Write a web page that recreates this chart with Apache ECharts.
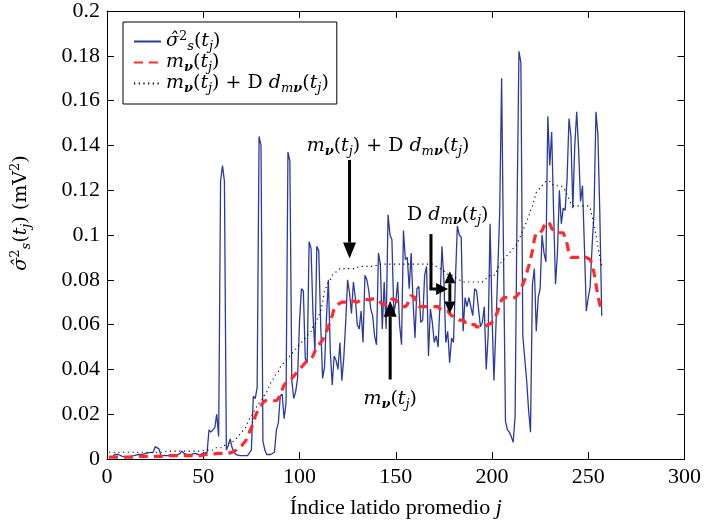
<!DOCTYPE html>
<html><head><meta charset="utf-8">
<script src="https://cdn.jsdelivr.net/npm/echarts@6/dist/echarts.min.js"></script>
<style>html,body{margin:0;padding:0;background:#fff}#c{width:704px;height:524px}</style>
</head><body><div id="c"></div>
<script>
// blue: estimated variance sigma_s^2(t_j), j = 1..257
const sigma = [
0.001,0.0015,0.001,0.002,0.0012,0.002,0.0015,0.0012,0.0015,0.001,
0.0015,0.0012,0.002,0.0015,0.0018,0.002,0.0025,0.002,0.0028,0.0025,
0.002,0.0028,0.0025,0.003,0.0055,0.005,0.0045,0.0015,0.0012,0.0015,
0.0012,0.0015,0.0015,0.0012,0.0018,0.0015,0.002,0.0025,0.0035,0.0025,
0.002,0.002,0.0018,0.0022,0.002,0.0025,0.002,0.0018,0.002,0.0025,
0.0025,0.003,0.013,0.012,0.013,0.014,0.020,0.010,0.124,0.131,
0.124,0.004,0.006,0.009,0.005,0.003,0.002,0.0015,0.0015,0.001,
0.0015,0.002,0.0015,0.002,0.004,0.028,0.027,0.032,0.144,0.140,
0.008,0.004,0.002,0.0015,0.002,0.002,0.003,0.013,0.016,0.028,
0.029,0.018,0.025,0.137,0.133,0.035,0.027,0.030,0.036,0.061,
0.076,0.075,0.045,0.043,0.097,0.094,0.065,0.048,0.095,0.093,
0.060,0.036,0.041,0.063,0.080,0.048,0.033,0.046,0.044,0.040,
0.052,0.035,0.045,0.061,0.080,0.074,0.065,0.079,0.072,0.060,
0.058,0.066,0.052,0.082,0.080,0.075,0.067,0.064,0.055,0.051,
0.092,0.087,0.058,0.079,0.058,0.109,0.100,0.098,0.065,0.070,
0.079,0.060,0.051,0.102,0.089,0.090,0.076,0.092,0.070,0.054,
0.076,0.077,0.061,0.062,0.082,0.086,0.046,0.067,0.061,0.052,
0.055,0.050,0.070,0.095,0.080,0.052,0.057,0.043,0.054,0.052,
0.080,0.104,0.100,0.099,0.057,0.072,0.068,0.072,0.068,0.064,
0.076,0.075,0.075,0.059,0.061,0.068,0.040,0.055,0.105,0.065,
0.035,0.058,0.058,0.110,0.170,0.090,0.017,0.013,0.012,0.010,
0.0075,0.019,0.110,0.182,0.177,0.055,0.045,0.035,0.022,0.012,
0.078,0.085,0.057,0.072,0.076,0.100,0.092,0.088,0.153,0.131,
0.146,0.110,0.078,0.092,0.120,0.105,0.112,0.111,0.125,0.152,
0.144,0.112,0.140,0.155,0.138,0.115,0.122,0.095,0.066,0.072,
0.077,0.095,0.110,0.155,0.145,0.110,0.064
];
// red dashed: m_nu(t_j)
const meanNu = [
0.0008,0.0008,0.0008,0.0008,0.0008,0.0008,0.0008,0.0008,0.0008,0.0008,
0.0008,0.0008,0.0008,0.0008,0.0008,0.0012,0.0012,0.0012,0.0012,0.0012,
0.0012,0.0012,0.0012,0.0012,0.0012,0.0012,0.0012,0.0012,0.0012,0.0012,
0.0015,0.0015,0.0015,0.0015,0.0015,0.0015,0.0015,0.0015,0.0015,0.0015,
0.0015,0.0015,0.0015,0.0015,0.0015,0.0015,0.0015,0.0015,0.0015,0.0015,
0.002,0.002,0.002,0.002,0.002,0.0025,0.0025,0.0025,0.0025,0.0025,
0.0025,0.0025,0.0025,0.0025,0.003,0.0035,0.004,0.005,0.0055,0.006,
0.007,0.008,0.010,0.012,0.014,0.016,0.019,0.021,0.023,0.024,
0.025,0.026,0.026,0.026,0.026,0.026,0.026,0.026,0.027,0.029,
0.031,0.033,0.034,0.035,0.035,0.036,0.037,0.038,0.039,0.040,
0.041,0.042,0.043,0.044,0.044,0.045,0.046,0.048,0.050,0.051,
0.052,0.053,0.055,0.057,0.059,0.062,0.064,0.067,0.068,0.069,
0.069,0.070,0.070,0.070,0.0705,0.071,0.071,0.0705,0.070,0.070,
0.070,0.071,0.071,0.0715,0.0715,0.071,0.071,0.0715,0.0715,0.0715,
0.071,0.070,0.069,0.069,0.069,0.069,0.070,0.0715,0.0715,0.071,
0.070,0.069,0.068,0.068,0.068,0.069,0.071,0.073,0.073,0.072,
0.069,0.068,0.068,0.068,0.068,0.068,0.068,0.068,0.068,0.068,
0.068,0.068,0.067,0.067,0.066,0.066,0.066,0.065,0.064,0.064,
0.063,0.063,0.062,0.062,0.062,0.061,0.061,0.061,0.060,0.060,
0.060,0.059,0.059,0.059,0.059,0.059,0.059,0.060,0.060,0.061,
0.062,0.064,0.066,0.069,0.071,0.072,0.072,0.072,0.072,0.072,
0.072,0.072,0.073,0.074,0.076,0.078,0.080,0.083,0.086,0.089,
0.093,0.098,0.101,0.101,0.101,0.102,0.104,0.105,0.106,0.105,
0.103,0.102,0.101,0.101,0.101,0.101,0.101,0.099,0.096,0.092,
0.090,0.090,0.090,0.090,0.090,0.090,0.090,0.090,0.090,0.090,
0.089,0.087,0.083,0.078,0.073,0.069,0.066
];
// black dotted: m_nu(t_j) + D d_mnu(t_j)
const upperBand = [
0.003,0.003,0.003,0.003,0.003,0.003,0.003,0.003,0.003,0.003,
0.003,0.003,0.003,0.003,0.003,0.003,0.003,0.003,0.003,0.003,
0.003,0.003,0.003,0.003,0.003,0.003,0.003,0.003,0.003,0.003,
0.0035,0.0035,0.0035,0.0035,0.0035,0.0035,0.0035,0.0035,0.0035,0.0035,
0.0035,0.0035,0.0035,0.0035,0.0035,0.0035,0.0035,0.0035,0.0035,0.0035,
0.004,0.004,0.004,0.004,0.004,0.005,0.005,0.005,0.005,0.005,
0.006,0.0065,0.007,0.007,0.0075,0.008,0.009,0.010,0.011,0.012,
0.013,0.014,0.016,0.018,0.019,0.021,0.022,0.024,0.025,0.026,
0.027,0.029,0.030,0.032,0.034,0.035,0.037,0.038,0.039,0.041,
0.042,0.043,0.044,0.045,0.046,0.047,0.048,0.049,0.050,0.051,
0.052,0.053,0.054,0.055,0.056,0.057,0.059,0.060,0.062,0.064,
0.066,0.070,0.075,0.077,0.079,0.080,0.082,0.083,0.083,0.084,
0.085,0.085,0.085,0.085,0.085,0.085,0.085,0.085,0.085,0.085,
0.086,0.086,0.086,0.086,0.086,0.086,0.086,0.086,0.086,0.086,
0.087,0.087,0.087,0.087,0.087,0.087,0.087,0.087,0.087,0.087,
0.087,0.087,0.087,0.087,0.087,0.087,0.087,0.087,0.087,0.087,
0.087,0.087,0.087,0.087,0.087,0.087,0.087,0.087,0.087,0.087,
0.086,0.086,0.085,0.085,0.084,0.083,0.083,0.082,0.082,0.082,
0.081,0.081,0.080,0.080,0.079,0.079,0.079,0.079,0.079,0.079,
0.079,0.079,0.079,0.079,0.079,0.080,0.080,0.081,0.082,0.082,
0.082,0.083,0.085,0.087,0.088,0.089,0.090,0.091,0.092,0.093,
0.094,0.095,0.096,0.098,0.100,0.102,0.104,0.106,0.108,0.111,
0.113,0.116,0.119,0.120,0.121,0.122,0.123,0.124,0.124,0.124,
0.123,0.122,0.122,0.122,0.122,0.122,0.121,0.120,0.118,0.116,
0.114,0.113,0.113,0.113,0.113,0.113,0.113,0.113,0.113,0.113,
0.112,0.108,0.104,0.100,0.095,0.090,0.086
];
const xTicks = [0, 50, 100, 150, 200, 250, 300];
const yTicks = [0, 0.02, 0.04, 0.06, 0.08, 0.1, 0.12, 0.14, 0.16, 0.18, 0.2];

const F = '"Liberation Serif", "Times New Roman", serif';
const M = '"DejaVu Serif", serif';
const pairs = arr => arr.map((v, i) => [i + 1, v]);

function mkRich(fs, lh, fam) {
  const s = Math.round(fs * 0.7);
  return {
    i: {fontFamily: fam, fontStyle: 'italic', fontSize: fs, lineHeight: lh, color: '#000'},
    r: {fontFamily: fam, fontSize: fs, lineHeight: lh, color: '#000'},
    b: {fontFamily: fam, fontStyle: 'italic', fontWeight: 'bold', fontSize: fs, lineHeight: lh, color: '#000'},
    sub: {fontFamily: fam, fontStyle: 'italic', fontSize: s, lineHeight: s, verticalAlign: 'bottom', color: '#000'},
    subb: {fontFamily: fam, fontStyle: 'italic', fontWeight: 'bold', fontSize: s, lineHeight: s, verticalAlign: 'bottom', color: '#000'},
    sup: {fontFamily: fam, fontSize: s, lineHeight: s, verticalAlign: 'top', color: '#000'}
  };
}
const T_SIGMA = '{i|σ̂}{sup|2}{sub|s}{r|(}{i|t}{sub|j}{r|)}';
const T_MEAN = '{i|m}{subb|ν}{r|(}{i|t}{sub|j}{r|)}';
const T_UPPER = '{i|m}{subb|ν}{r|(}{i|t}{sub|j}{r|) + D }{i|d}{sub|m}{subb|ν}{r|(}{i|t}{sub|j}{r|)}';
const T_DD = '{r|D }{i|d}{sub|m}{subb|ν}{r|(}{i|t}{sub|j}{r|)}';
const T_YNAME = '{i|σ̂}{sup|2}{sub|s}{r|(}{i|t}{sub|j}{r|) (mV}{sup|2}{r|)}';
const names = ['sigma', 'mean', 'upper'];
const legendText = {sigma: T_SIGMA, mean: T_MEAN, upper: T_UPPER};

const tickFont = {color: '#000', fontFamily: F, fontSize: 22, margin: 7};
const axisBase = {
  axisLine: {show: true, onZero: false, lineStyle: {color: '#000', width: 1}},
  axisTick: {show: true, inside: true, length: 7, lineStyle: {color: '#000', width: 1}},
  splitLine: {show: false}
};

const option = {
  animation: false,
  backgroundColor: '#fff',
  textStyle: {fontFamily: F},
  grid: {left: 107, right: 16, top: 10, bottom: 58, containLabel: false},
  legend: {
    orient: 'vertical', left: 123, top: 22,
    backgroundColor: '#fff', borderColor: '#000', borderWidth: 1,
    padding: [8, 8, 9, 10], itemGap: 0, itemWidth: 27, itemHeight: 14,
    data: names,
    formatter: n => legendText[n],
    itemStyle: {color: 'rgba(0,0,0,0)', borderWidth: 0, opacity: 0},
    textStyle: {rich: mkRich(19, 23, M)}
  },
  xAxis: [
    Object.assign({}, axisBase, {
      type: 'value', min: 0, max: 300, interval: 50, position: 'bottom',
      axisLabel: Object.assign({}, tickFont),
      name: '{r|Índice latido promedio }{i|j}',
      nameLocation: 'middle', nameGap: 35,
      nameTextStyle: {rich: mkRich(22, 28, F)}
    }),
    Object.assign({}, axisBase, {
      type: 'value', min: 0, max: 300, interval: 50, position: 'top',
      axisLabel: {show: false}
    })
  ],
  yAxis: [
    Object.assign({}, axisBase, {
      type: 'value', min: 0, max: 0.2, interval: 0.02, position: 'left',
      axisLabel: Object.assign({}, tickFont, {formatter: v => String(+v.toFixed(2))})
    }),
    Object.assign({}, axisBase, {
      type: 'value', min: 0, max: 0.2, interval: 0.02, position: 'right',
      axisLabel: {show: false}
    })
  ],
  series: [
    {name: 'sigma', type: 'line', data: pairs(sigma), symbol: 'none', showSymbol: false,
      lineStyle: {color: '#2b3a9e', width: 1.3}, itemStyle: {color: '#2b3a9e'}, z: 2},
    {name: 'mean', type: 'line', data: pairs(meanNu), symbol: 'none', showSymbol: false,
      lineStyle: {color: '#ff2b2b', width: 3.2, type: [9, 6]}, itemStyle: {color: '#ff2b2b'}, z: 3},
    {name: 'upper', type: 'line', data: pairs(upperBand), symbol: 'none', showSymbol: false,
      lineStyle: {color: '#000', width: 1.1, type: [1.2, 3.5]}, itemStyle: {color: '#000'}, z: 4}
  ]
};

const chart = echarts.init(document.getElementById('c'), null, {renderer: 'canvas'});
chart.setOption(option);

// annotations, placed in data coordinates
const P = (x, y) => chart.convertToPixel({gridIndex: 0}, [x, y]);
function arrow(a, b, w, hl, hw) {
  const dx = b[0] - a[0], dy = b[1] - a[1];
  const L = Math.hypot(dx, dy), ux = dx / L, uy = dy / L;
  const bx = b[0] - ux * hl, by = b[1] - uy * hl;
  return [
    {type: 'line', shape: {x1: a[0], y1: a[1], x2: bx, y2: by}, style: {stroke: '#000', lineWidth: w}, z: 100},
    {type: 'polygon', shape: {points: [[b[0], b[1]], [bx - uy * hw, by + ux * hw], [bx + uy * hw, by - ux * hw]]},
      style: {fill: '#000'}, z: 100}
  ];
}
const annRich = mkRich(19, 24, M);
const g = [];
// y-axis title
const yMid = P(0, 0.1);
g.push({type: 'text', x: 21, y: yMid[1] - 22, rotation: Math.PI / 2, z: 100,
  style: {text: T_YNAME, rich: mkRich(19, 24, M), align: 'center', verticalAlign: 'middle'}});
let p = P(146, 0.1395);
g.push({type: 'text', x: p[0], y: p[1], z: 100, style: {text: T_UPPER, rich: annRich, align: 'center', verticalAlign: 'middle'}});
g.push(...arrow(P(126, 0.1335), P(126, 0.0895), 3, 16, 6.5));
p = P(177, 0.1088);
g.push({type: 'text', x: p[0], y: p[1], z: 100, style: {text: T_DD, rich: annRich, align: 'center', verticalAlign: 'middle'}});
const c1 = P(168.3, 0.1004), c2 = P(168.3, 0.0759);
g.push({type: 'line', shape: {x1: c1[0], y1: c1[1], x2: c2[0], y2: c2[1]}, style: {stroke: '#000', lineWidth: 3}, z: 100});
g.push(...arrow([c2[0] - 1.5, c2[1]], P(177.2, 0.0759), 3, 12, 6));
const mid = P(178.1, 0.0745);
g.push(...arrow(mid, P(178.1, 0.0838), 3, 12, 5.5));
g.push(...arrow(mid, P(178.1, 0.0649), 3, 12, 5.5));
p = P(147.1, 0.0268);
g.push({type: 'text', x: p[0], y: p[1], z: 100, style: {text: T_MEAN, rich: annRich, align: 'center', verticalAlign: 'middle'}});
g.push(...arrow(P(147.1, 0.0355), P(147.1, 0.0706), 3, 16, 6.5));
chart.setOption({graphic: g});
</script>
</body></html>
